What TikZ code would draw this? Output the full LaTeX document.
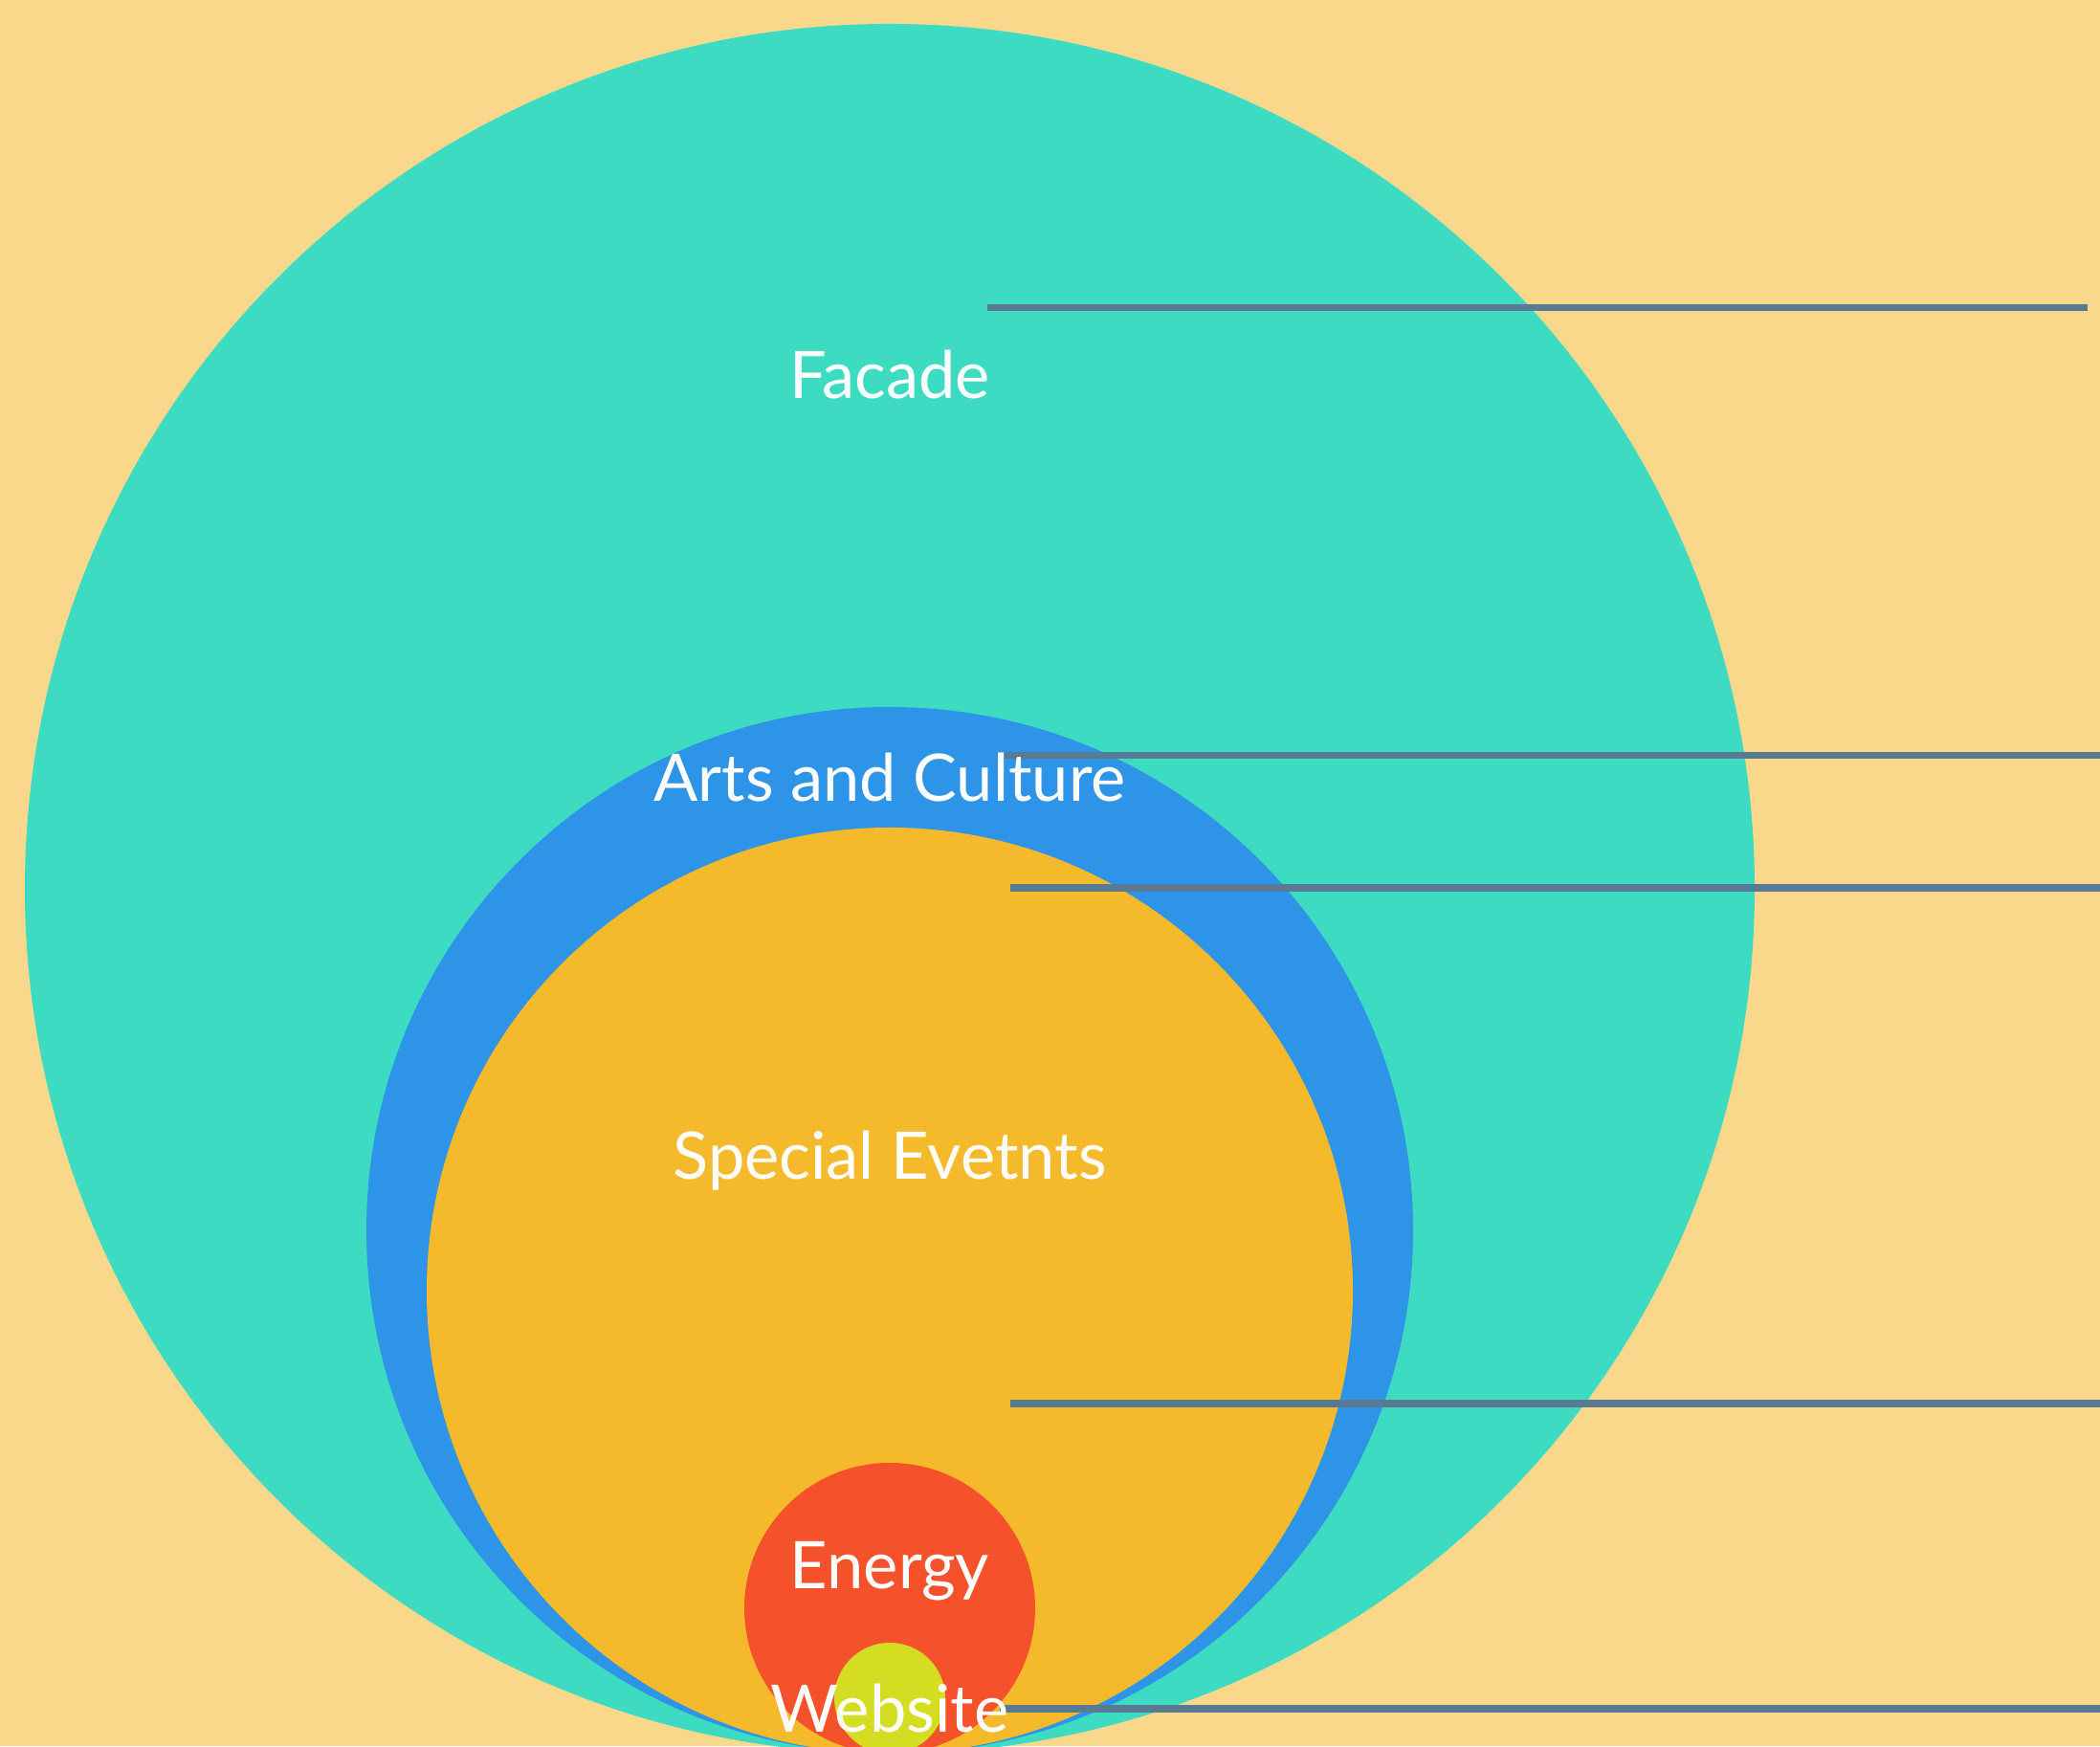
\documentclass[tikz,border=0pt]{standalone}
\usepackage{fontspec}
\setmainfont{Lato}
\usetikzlibrary{positioning}
\definecolor{bgsand}{HTML}{F9D88C}
\definecolor{facadeteal}{HTML}{3DDBC1}
\definecolor{artsblue}{HTML}{2E94E8}
\definecolor{eventorange}{HTML}{F5BA2C}
\definecolor{energyred}{HTML}{F5512B}
\definecolor{weblime}{HTML}{D4DD22}
\definecolor{leadgray}{HTML}{587A93}
\tikzset{
  ring/.style  = {circle, inner sep=0pt, draw=none},
  label/.style = {anchor=base, text=white, inner sep=0pt,
                  font=\fontsize{19.5}{23}\selectfont},
  lead/.style  = {draw=leadgray, line width=2pt}
}

\begin{document}
\begin{tikzpicture}

\fill[bgsand] (0,0) rectangle (21.95,18.25);
\useasboundingbox (0,0) rectangle (21.95,18.25);
\clip (0,0) rectangle (21.95,18.25);

% nested circles, all touching at the bottom
\node[ring, fill=facadeteal,  minimum size=18.08cm] (FacadeC) at (9.30,8.96) {};
\node[ring, fill=artsblue,    minimum size=10.94cm] (ArtsC)   at (9.30,5.39) {};
\node[ring, fill=eventorange, minimum size=9.68cm]  (EventsC) at (9.30,4.76) {};
\node[ring, fill=energyred,   minimum size=3.04cm]  (EnergyC) at (9.30,1.44) {};
\node[ring, fill=weblime,     minimum size=1.16cm]  (WebC)    at (9.30,0.50) {};

% leader lines
\foreach \n/\xa/\xb/\y in {Facade/10.32/21.82/15.03, Arts/10.50/21.95/10.35,
    Events/10.56/21.95/8.97, Energy/10.56/21.95/3.58, Web/10.45/21.95/0.39}{
    \coordinate (\n A) at (\xa,\y);
    \coordinate (\n B) at (\xb,\y);
    \draw[lead] (\n A) -- (\n B);
    }

\node[label] at (9.30,14.08) (Facade) {Facade};
\node[label] at (9.30,9.87)  (Arts)   {Arts and Culture};
\node[label] at (9.30,5.92)  (Events) {Special Evetnts};
\node[label] at (9.30,1.65)  (Energy) {Energy};
\node[label] at (9.30,0.15)  (Web)    {Website};

\end{tikzpicture}
\end{document}
